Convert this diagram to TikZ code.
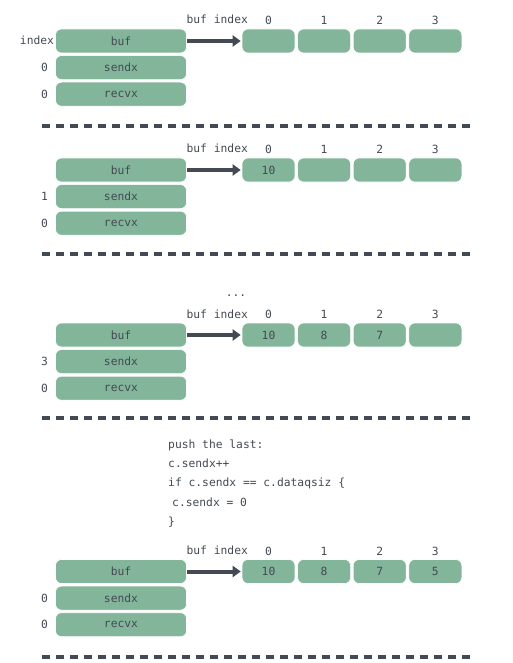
\documentclass[tikz,border=0pt]{standalone}
\usepackage{fontspec}
\setmonofont{DejaVu Sans Mono}
\usepackage{xcolor}
\usetikzlibrary{arrows.meta, positioning}

\definecolor{cellgreen}{HTML}{83B59B}
\definecolor{inkgray}{HTML}{434A54}

\begin{document}
\begin{tikzpicture}[
    x=1pt, y=-1pt,
    node distance=2pt,
    field/.style={rectangle, rounded corners=6pt, draw=white, fill=cellgreen, line width=0.6pt, minimum width=131pt, minimum height=24pt, font=\ttfamily\fontsize{11.3}{13}\selectfont, text=inkgray},
    cell/.style={field, minimum width=53pt},
    lbl/.style={font=\ttfamily\fontsize{11.3}{13}\selectfont, text=inkgray, inner sep=1pt, text height=8pt, text depth=0pt},
    ptr/.style={-{Triangle[length=8pt,width=11pt]}, line width=4pt, inkgray, shorten >=1pt},
    sep/.style={line width=4pt, inkgray, dash pattern=on 8pt off 6pt}
]
\useasboundingbox (0,0) rectangle (512,663);

% step 1: empty buffer
\node[field] (buf1) at (121,41) {buf};
\node[field, below=of buf1] (sendx1) {sendx};
\node[field, below=of sendx1] (recvx1) {recvx};
\node[lbl, left=0pt of buf1] (idx1) {index};
\node[lbl, left=6pt of sendx1] (sv1) {0};
\node[lbl, left=6pt of recvx1] (rv1) {0};
\node[cell] (c10) at (268.5,41) {};
\node[cell, right=of c10] (c11) {};
\node[cell, right=of c11] (c12) {};
\node[cell, right=of c12] (c13) {};
\foreach \i in {0,...,3} \node[lbl, above=3pt of c1\i] (n1\i) {\i};
\draw[ptr] (buf1) -- node[lbl, above=14pt, xshift=3pt] (bi1) {buf index} (c10);
\draw[sep] (42,126) -- (470,126);

% step 2: first send
\node[field] (buf2) at (121,170) {buf};
\node[field, below=of buf2] (sendx2) {sendx};
\node[field, below=of sendx2] (recvx2) {recvx};
\node[lbl, left=6pt of sendx2] (sv2) {1};
\node[lbl, left=6pt of recvx2] (rv2) {0};
\node[cell] (c20) at (268.5,170) {10};
\node[cell, right=of c20] (c21) {};
\node[cell, right=of c21] (c22) {};
\node[cell, right=of c22] (c23) {};
\foreach \i in {0,...,3} \node[lbl, above=3pt of c2\i] (n2\i) {\i};
\draw[ptr] (buf2) -- node[lbl, above=14pt, xshift=3pt] (bi2) {buf index} (c20);
\draw[sep] (42,254) -- (470,254);

% step 3: three sends
\node[lbl] (dots) at (236,292) {...};
\node[field] (buf3) at (121,335) {buf};
\node[field, below=of buf3] (sendx3) {sendx};
\node[field, below=of sendx3] (recvx3) {recvx};
\node[lbl, left=6pt of sendx3] (sv3) {3};
\node[lbl, left=6pt of recvx3] (rv3) {0};
\node[cell] (c30) at (268.5,335) {10};
\node[cell, right=of c30] (c31) {8};
\node[cell, right=of c31] (c32) {7};
\node[cell, right=of c32] (c33) {};
\foreach \i in {0,...,3} \node[lbl, above=3pt of c3\i] (n3\i) {\i};
\draw[ptr] (buf3) -- node[lbl, above=14pt, xshift=3pt] (bi3) {buf index} (c30);
\draw[sep] (42,418) -- (470,418);

% step 4: last send wraps sendx
\node[lbl, anchor=north west, align=left, inner sep=0pt, text height=, text depth=,
      font=\ttfamily\fontsize{11.3}{19.3}\selectfont] (code) at (168,439.5)
  {push the last:\\
   c.sendx++\\
   if c.sendx == c.dataqsiz \{\\
   \hspace*{4pt}c.sendx = 0\\
   \}};
\node[field] (buf4) at (121,571.5) {buf};
\node[field, below=of buf4] (sendx4) {sendx};
\node[field, below=of sendx4] (recvx4) {recvx};
\node[lbl, left=6pt of sendx4] (sv4) {0};
\node[lbl, left=6pt of recvx4] (rv4) {0};
\node[cell] (c40) at (268.5,571.5) {10};
\node[cell, right=of c40] (c41) {8};
\node[cell, right=of c41] (c42) {7};
\node[cell, right=of c42] (c43) {5};
\foreach \i in {0,...,3} \node[lbl, above=3pt of c4\i] (n4\i) {\i};
\draw[ptr] (buf4) -- node[lbl, above=14pt, xshift=3pt] (bi4) {buf index} (c40);
\draw[sep] (42,657) -- (470,657);

\end{tikzpicture}
\end{document}
